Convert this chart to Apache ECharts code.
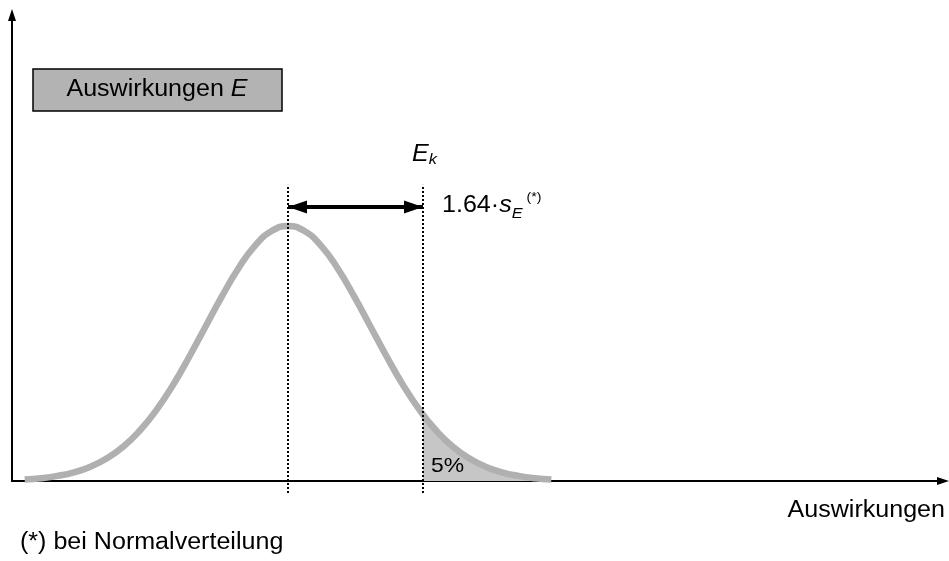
<!DOCTYPE html>
<html>
<head>
<meta charset="utf-8">
<script src="https://cdn.jsdelivr.net/npm/echarts@6/dist/echarts.min.js"></script>
<style>
  html, body { margin: 0; padding: 0; background: #fff; }
  #chart { width: 949px; height: 561px; }
</style>
</head>
<body>
<div id="chart"></div>
<script>
// Auswirkungen E: Normalverteilung (x in Einheiten von s_E, y relativ zum Maximum)
var curveX = [-3.2, -3.0, -2.8, -2.6, -2.4, -2.2, -2.0, -1.8, -1.6, -1.4, -1.2, -1.0, -0.8, -0.6, -0.4, -0.2,
  0, 0.2, 0.4, 0.6, 0.8, 1.0, 1.2, 1.4, 1.6, 1.8, 2.0, 2.2, 2.4, 2.6, 2.8, 3.0, 3.2];
var curveY = [0.006, 0.011, 0.020, 0.034, 0.056, 0.089, 0.135, 0.198, 0.278, 0.375, 0.487, 0.607, 0.726, 0.835, 0.923, 0.980,
  1.000, 0.980, 0.923, 0.835, 0.726, 0.607, 0.487, 0.375, 0.278, 0.198, 0.135, 0.089, 0.056, 0.034, 0.020, 0.011, 0.006];
// 5%-Bereich rechts von E_k
var tailX = [1.64, 1.8, 2.0, 2.2, 2.4, 2.6, 2.8, 3.0, 3.2];
var tailY = [0.261, 0.198, 0.135, 0.089, 0.056, 0.034, 0.020, 0.011, 0.006];
var meanX = 0;
var ekX = 1.64;

var font = '"Liberation Sans", Arial, sans-serif';
var stretch = 1.09;

function pairs(xs, ys) {
  var res = [];
  for (var i = 0; i < xs.length; i++) {
    res.push([xs[i], ys[i]]);
  }
  return res;
}

var lineTop = 1.161;
var lineBottom = -0.047;
var arrowY = 1.074;

function dottedSeries(x) {
  return {
    type: 'line',
    clip: false,
    silent: true,
    showSymbol: false,
    z: 4,
    lineStyle: { color: '#000', width: 2, type: [2, 2] },
    data: [[x, lineBottom], [x, lineTop]],
  };
}

var arrowEnd = { symbol: 'triangle', symbolSize: [13, 19], symbolOffset: [0, 9.5] };

var hiddenAxisParts = {
  axisTick: { show: false },
  axisLabel: { show: false },
  splitLine: { show: false },
};

var option = {
  animation: false,
  backgroundColor: '#fff',
  grid: { left: 12, right: 6, top: 15, bottom: 80 },
  xAxis: Object.assign({
    type: 'value',
    min: -3.354,
    max: 7.959,
    axisLine: {
      show: true,
      onZero: false,
      symbol: ['none', 'triangle'],
      symbolSize: [8, 12],
      lineStyle: { color: '#000', width: 2 },
    },
  }, hiddenAxisParts),
  yAxis: Object.assign({
    type: 'value',
    min: 0,
    max: 1.827,
    axisLine: {
      show: true,
      onZero: false,
      symbol: ['none', 'triangle'],
      symbolSize: [8, 12],
      lineStyle: { color: '#000', width: 2 },
    },
  }, hiddenAxisParts),
  series: [
    {
      name: 'tail',
      type: 'line',
      smooth: true,
      silent: true,
      showSymbol: false,
      z: 2,
      lineStyle: { width: 0, opacity: 0 },
      areaStyle: { color: '#c6c6c6', opacity: 1 },
      data: pairs(tailX, tailY),
    },
    {
      name: 'curve',
      type: 'line',
      smooth: true,
      silent: true,
      showSymbol: false,
      z: 3,
      lineStyle: { color: '#b0b0b0', width: 6.5, cap: 'butt' },
      data: pairs(curveX, curveY),
    },
    Object.assign(dottedSeries(meanX), {
      markLine: {
        silent: true,
        animation: false,
        label: { show: false },
        lineStyle: { color: '#000', width: 4, type: 'solid' },
        data: [[
          Object.assign({ coord: [meanX, arrowY] }, arrowEnd),
          Object.assign({ coord: [ekX, arrowY] }, arrowEnd),
        ]],
      },
    }),
    dottedSeries(ekX),
  ],
  graphic: [
    {
      type: 'rect',
      shape: { x: 33, y: 69, width: 249, height: 42 },
      style: { fill: '#b3b3b3', stroke: '#000', lineWidth: 1.5 },
      z: 10,
    },
    {
      type: 'text',
      x: 157,
      y: 90,
      scaleX: stretch,
      z: 11,
      style: {
        text: 'Auswirkungen {i|E}',
        fill: '#000',
        font: '23px ' + font,
        align: 'center',
        verticalAlign: 'middle',
        rich: { i: { fontStyle: 'italic', fontSize: 23, fontFamily: font, fill: '#000' } },
      },
    },
    {
      type: 'text',
      x: 412,
      y: 155,
      scaleX: stretch,
      z: 11,
      style: {
        text: '{e|E}{k|k}',
        align: 'left',
        verticalAlign: 'middle',
        rich: {
          e: { fontStyle: 'italic', fontSize: 23, lineHeight: 24, fontFamily: font, fill: '#000' },
          k: { fontStyle: 'italic', fontSize: 15, lineHeight: 14, fontFamily: font, fill: '#000', verticalAlign: 'bottom' },
        },
      },
    },
    {
      type: 'text',
      x: 442,
      y: 206,
      scaleX: stretch,
      z: 11,
      style: {
        text: '{n|1.64·}{s|s}{sub|E}{sup| (*)}',
        align: 'left',
        verticalAlign: 'middle',
        rich: {
          n: { fontSize: 23, lineHeight: 30, fontFamily: font, fill: '#000' },
          s: { fontStyle: 'italic', fontSize: 23, lineHeight: 30, fontFamily: font, fill: '#000' },
          sub: { fontStyle: 'italic', fontSize: 15, lineHeight: 14, fontFamily: font, fill: '#000', verticalAlign: 'bottom' },
          sup: { fontSize: 13, lineHeight: 13, fontFamily: font, fill: '#000', verticalAlign: 'top' },
        },
      },
    },
    {
      type: 'text',
      x: 431,
      y: 466,
      scaleX: stretch,
      z: 11,
      style: { text: '5%', fill: '#000', font: '21px ' + font, align: 'left', verticalAlign: 'middle' },
    },
    {
      type: 'text',
      x: 945,
      y: 511,
      scaleX: stretch,
      z: 11,
      style: { text: 'Auswirkungen', fill: '#000', font: '23px ' + font, align: 'right', verticalAlign: 'middle' },
    },
    {
      type: 'text',
      x: 20,
      y: 543,
      scaleX: stretch,
      z: 11,
      style: { text: '(*) bei Normalverteilung', fill: '#000', font: '23px ' + font, align: 'left', verticalAlign: 'middle' },
    },
  ],
};

var chart = echarts.init(document.getElementById('chart'));
chart.setOption(option);
</script>
</body>
</html>
